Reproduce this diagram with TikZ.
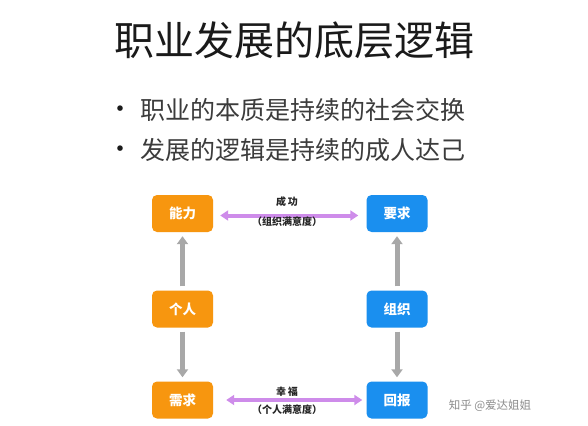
\documentclass[tikz,border=0pt]{standalone}
\usepackage{fontspec}
\usetikzlibrary{arrows.meta}
\newfontfamily\cjk{Noto Sans CJK SC}
\definecolor{boxorange}{HTML}{F7960F}
\definecolor{boxblue}{HTML}{1A8FEF}
\definecolor{arrgray}{HTML}{A8A8A8}
\definecolor{arrpurple}{HTML}{CE8CEA}
\definecolor{titlegray}{HTML}{1A1A1A}
\tikzset{
  obox/.style={fill=boxorange, rounded corners=5pt, minimum width=61pt, minimum height=37pt, inner sep=0pt, text=white, font=\cjk\bfseries\fontsize{13.5}{15}\selectfont},
  bbox/.style={obox, fill=boxblue},
  grayarr/.style={draw=arrgray, line width=5pt, -{Triangle[width=11pt,length=8pt]}, shorten <=4pt, shorten >=4pt},
  purparr/.style={draw=arrpurple, line width=4pt, {Triangle[width=10pt,length=8pt]}-{Triangle[width=10pt,length=8pt]}},
  lbl/.style={inner sep=0pt, text=black!85, font=\cjk\bfseries\fontsize{10}{12}\selectfont},
  bullettext/.style={anchor=west, inner sep=0pt, text=titlegray!85, font=\cjk\fontsize{25}{30}\selectfont},
  bulletdot/.style={inner sep=0pt, text=titlegray, font=\cjk\fontsize{26}{30}\selectfont}
}
\begin{document}
\begin{tikzpicture}[x=1pt,y=-1pt]
\useasboundingbox[fill=white] (0,0) rectangle (588,425);
\node[inner sep=0pt, text=titlegray, font=\cjk\fontsize{40}{46}\selectfont] (title) at (294,40) {职业发展的底层逻辑};
\node[bulletdot] (b1) at (120,112) {•};
\node[bullettext] (t1) at (140,110) {职业的本质是持续的社会交换};
\node[bulletdot] (b2) at (120,152) {•};
\node[bullettext] (t2) at (140,150) {发展的逻辑是持续的成人达己};

\node[obox] (neng) at (182.5,213.5) {能力};
\node[obox] (geren) at (182.5,309) {个人};
\node[obox] (xuqiu) at (182.5,400) {需求};
\node[bbox] (yaoqiu) at (397,213.5) {要求};
\node[bbox] (zuzhi) at (397,309) {组织};
\node[bbox] (huibao) at (397,400) {回报};

\draw[grayarr] (geren.north) -- (neng.south);
\draw[grayarr] (geren.south) -- (xuqiu.north);
\draw[grayarr] (zuzhi.north) -- (yaoqiu.south);
\draw[grayarr] (zuzhi.south) -- (huibao.north);

\draw[purparr, shorten <=7pt, shorten >=8pt] ([yshift=-2pt]neng.east) -- ([yshift=-2pt]yaoqiu.west);
\draw[purparr, shorten <=13pt, shorten >=4pt] (xuqiu.east) -- (huibao.west);

\node[lbl] (c1) at (287,202) {成\,功};
\node[lbl] (c2) at (287,222) {（组织满意度）};
\node[lbl] (c3) at (287,392) {幸\,福};
\node[lbl] (c4) at (287,410) {（个人满意度）};

\node[inner sep=0pt, text=black!45, font=\cjk\fontsize{11.5}{14}\selectfont] (wm) at (490,406) {知乎 @爱达姐姐};
\end{tikzpicture}
\end{document}
